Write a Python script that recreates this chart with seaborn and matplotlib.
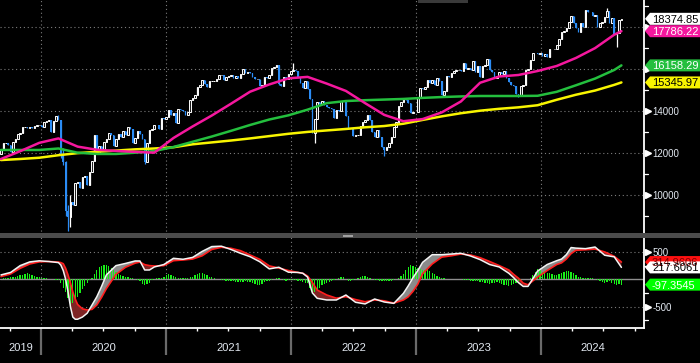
import numpy as np
import pandas as pd
import matplotlib
matplotlib.use("Agg")
import matplotlib.pyplot as plt
import matplotlib.dates as mdates
import matplotlib.transforms as mtransforms
from matplotlib.patches import Polygon, Rectangle
import seaborn as sns

# ---------------- data (weekly DAX candles) ----------------
first_date = "2019-09-06"
first_open = 11939
closes = [
    # 2019
    12191, 12468, 12468, 12380, 12013, 12512, 12634, 12895, 12961, 13229, 13242, 13164, 13236, 13166, 13283, 13319, 13337,
    # 2020
    13219, 13483, 13526, 13577, 12982, 13514, 13745, 13579, 11890, 11542, 9232, 8929, 9633, 9525, 10565, 10626, 10336,
    10861, 10904, 10465, 11074, 11587, 12848, 11949, 12331, 12089, 12528, 12633, 12920, 12838, 12313, 12674, 12901, 12765,
    13033, 12842, 13202, 13116, 12469, 12689, 13051, 12909, 12646, 11556, 12480, 13077, 13137, 13335, 13298, 13114, 13631, 13587,
    # 2021
    13719, 14049, 13788, 13874, 13433, 14057, 14050, 13993, 13786, 13920, 14502, 14621, 14748, 15107, 15234, 15459, 15280,
    15136, 15400, 15416, 15437, 15520, 15693, 15693, 15448, 15607, 15650, 15688, 15540, 15669, 15544, 15761, 15977, 15808,
    15852, 15781, 15609, 15490, 15531, 15156, 15206, 15587, 15543, 15688, 16054, 16094, 16160, 15257, 15169, 15623, 15531,
    15756, 15885,
    # 2022
    15948, 15883, 15603, 15318, 15100, 15425, 15042, 14567, 12919, 13628, 14413, 14306, 14446, 14284, 14163, 14143, 14098,
    13674, 14027, 13982, 14462, 14460, 13762, 13126, 13118, 12813, 12833, 12865, 13254, 13484, 13574, 13795, 13544, 12971,
    12761, 13088, 12741, 12284, 12114, 12273, 12438, 12731, 13243, 13460, 14224, 14431, 14541, 14529, 14370, 13893, 13940, 13924,
    # 2023
    14610, 15086, 15033, 15150, 15476, 15308, 15482, 15210, 15578, 15428, 14768, 14957, 15629, 15598, 15808, 15882, 15922,
    15961, 15914, 16275, 15983, 16051, 15950, 16358, 15830, 16148, 15603, 16106, 16177, 16469, 15952, 15832, 15575, 15632,
    15840, 15741, 15894, 15557, 15387, 15230, 15187, 14798, 14688, 15189, 15234, 15919, 15967, 16397, 16759, 16751, 16706, 16752,
    # 2024
    16594, 16704, 16555, 16961, 16918, 16926, 17117, 17419, 17735, 17815, 17937, 18206, 18492, 18175, 17930, 17737, 18161,
    18001, 18773, 18704, 18693, 18498, 18557, 18002, 18164, 18235, 18475, 18748, 18171, 18418, 17661, 17723, 18322, 18374.85,
]
wick_low = {25: 11724, 26: 11400, 27: 9000, 28: 8255, 29: 8450, 60: 11450, 116: 15200,
            131: 12439, 160: 11862, 216: 14630, 257: 17024}
wick_high = {24: 13795, 26: 12200, 27: 11600, 28: 9500, 29: 10000, 122: 16285, 253: 18892}

ma_weeks = [0, 8, 16, 24, 32, 40, 48, 56, 64, 72, 80, 88, 96, 104, 112, 120, 128,
            136, 144, 152, 160, 168, 176, 184, 192, 200, 208, 216, 224, 232, 240, 248, 256, 259]
ma_pink = [11700, 12070, 12470, 12680, 12290, 12140, 12085, 12040, 12000, 12700, 13250, 13770, 14330, 14905, 15250, 15540, 15610,
           15290, 14940, 14360, 13800, 13500, 13600, 13920, 14440, 15330, 15630, 15700, 15890, 16130, 16510, 16980, 17620, 17786.22]
ma_green = [12130, 12130, 12130, 12200, 12000, 11940, 11940, 12000, 12080, 12270, 12520, 12770, 13040, 13320, 13580, 13780, 14050,
            14360, 14460, 14500, 14530, 14560, 14610, 14650, 14680, 14700, 14700, 14700, 14710, 14900, 15210, 15530, 15940, 16158.29]
ma_yellow = [11650, 11700, 11760, 11880, 11980, 12040, 12100, 12160, 12200, 12260, 12400, 12490, 12580, 12680, 12790, 12900, 12990,
             13060, 13130, 13210, 13270, 13380, 13560, 13730, 13880, 14000, 14090, 14160, 14260, 14520, 14760, 14960, 15230, 15345.97]

macd_weeks = [0, 4, 8, 12, 16, 20, 24, 25, 26, 27, 28, 29, 30, 31, 32, 34, 36, 38, 40, 42, 44, 48, 52, 56, 58, 60, 62, 64,
              68, 72, 76, 80, 84, 88, 92, 96, 100, 104, 108, 112, 116, 120, 124, 126, 128, 130, 132, 136, 140, 144, 148, 152,
              156, 160, 164, 168, 170, 172, 174, 176, 180, 184, 188, 192, 196, 200, 204, 208, 212, 214, 216, 218, 220, 224,
              228, 232, 234, 236, 238, 240, 244, 248, 252, 256, 259]
macd_line = [80, 125, 250, 318, 338, 325, 305, 260, 160, 0, -230, -500, -690, -730, -730, -690, -620, -470, -320, -130, 80,
             250, 290, 335, 335, 170, 170, 225, 270, 384, 366, 400, 510, 598, 605, 545, 475, 413, 322, 190, 220, 130, 125,
             110, 40, -250, -347, -378, -378, -287, -420, -450, -360, -415, -440, -256, -120, 30, 160, 310, 450, 450, 462,
             475, 426, 360, 270, 225, 110, 30, -60, -130, -130, 150, 270, 340, 370, 450, 580, 570, 560, 590, 440, 410, 217.6061]
macd_signal = [50, 97, 200, 280, 318, 325, 315, 305, 285, 200, 80, -70, -230, -360, -460, -540, -560, -550, -470, -330, -170,
               90, 220, 295, 315, 268, 250, 243, 250, 340, 353, 370, 430, 545, 585, 567, 523, 444, 366, 245, 205, 160, 125,
               110, 60, -60, -196, -287, -345, -318, -370, -410, -378, -393, -435, -378, -320, -220, -90, 100, 280, 405, 430,
               462, 444, 395, 325, 250, 170, 90, 20, -70, -100, 40, 160, 270, 300, 370, 470, 530, 540, 552, 500, 420, 314.9606]
macd_hist = [
    5, 15, 25, 30, 35, 40, 50, 60, 70, 85, 100, 110, 95, 80, 60, 45,
    35, 25, 20, 15, 10, 5, 0, -5, -20, -60, -150, -230, -350, -500, -430, -380,
    -320, -250, -180, -120, -60, -20, 30, 100, 170, 220, 250, 260, 255, 240, 210, 170,
    130, 100, 80, 60, 50, 40, 30, 15, 5, -10, -40, -80, -100, -90, -60, -20,
    10, 20, 25, 30, 50, 70, 90, 80, 60, 40, 30, 25, 20, 25, 30, 35,
    50, 70, 100, 120, 110, 90, 70, 50, 35, 20, 10, 0, -10, -20, -25, -30,
    -35, -40, -45, -50, -50, -45, -40, -45, -55, -70, -90, -100, -104, -80, -50, -30,
    -25, -20, 10, 20, 15, 10, -10, -25, -20, -10, -10, -15, -25, -35, -45, -60,
    -60, -150, -256, -230, -196, -150, -100, -80, -70, -50, -30, -10, 10, 25, 40, 48,
    10, -25, -35, -20, 10, 25, 40, 55, 66, 50, 30, 10, -10, -20, -25, -30,
    -35, -40, -40, -30, -10, 10, 30, 60, 100, 170, 230, 261, 250, 220, 200, 180,
    170, 175, 183, 160, 120, 90, 60, 40, 25, 15, 10, 5, 5, 10, 10, 5,
    0, -10, -15, -20, -25, -30, -35, -40, -45, -50, -60, -70, -86, -75, -60, -50,
    -60, -80, -100, -110, -117, -100, -80, -60, -40, -10, 10, 5, 0, 30, 80, 130,
    183, 170, 140, 120, 121, 110, 90, 80, 75, 90, 110, 130, 150, 157, 140, 110,
    80, 50, 35, 25, 20, 20, 25, 20, 10, -10, -30, -50, -60, -50, -40, -60,
    -80, -104, -90, -97.3545,
]

year_labels = [2019, 2020, 2021, 2022, 2023, 2024]
price_grid = [10000, 12000, 14000, 16000, 18000]
price_labeled = [10000, 12000, 14000]
price_minor = [9000, 11000, 13000, 15000, 17000, 19000]
macd_major = [500, -500]
macd_minor = [250, -250, -750]

# ---------------- style ----------------
sns.set_theme(style="dark", rc={"axes.facecolor": "black", "figure.facecolor": "black"})
plt.rcParams["font.family"] = ["Liberation Sans", "DejaVu Sans"]

W, H = 700, 363
fig = plt.figure(figsize=(W / 100, H / 100), dpi=100, facecolor="black")
ax1 = fig.add_axes([0, 1 - 235 / H, 644 / W, 235 / H])
ax2 = fig.add_axes([0, 1 - 328 / H, 644 / W, 91 / H])

C_UP = "#ffffff"
C_DN = "#2b8cf5"
C_PINK = "#f5179e"
C_GREEN = "#24bf3e"
C_YELLOW = "#f8f500"
GRID = "#7c7c7c"
TXT = "#e2e8f0"

origin = pd.Timestamp("2020-01-01")
xmin = mdates.date2num(origin - pd.Timedelta(days=41 * 365.25 / 125))
xmax = mdates.date2num(origin + pd.Timedelta(days=603 * 365.25 / 125))

dates = pd.date_range(first_date, periods=len(closes), freq="7D")
xd = mdates.date2num(dates.to_pydatetime())

for ax in (ax1, ax2):
    ax.set_facecolor("black")
    ax.grid(False)
    for s in ax.spines.values():
        s.set_visible(False)
    ax.spines["right"].set_visible(True)
    ax.spines["right"].set_color("white")
    ax.spines["right"].set_linewidth(1.3)
    ax.set_xlim(xmin, xmax)
    for yr in year_labels[1:]:
        ax.axvline(mdates.date2num(pd.Timestamp(f"{yr}-01-01")), color=GRID, lw=0.8,
                   ls=(0, (1, 2.5)), zorder=0.5)

ax1.set_ylim(8081, 19271)
ax2.set_ylim(-890, 773)

# ---------------- candles ----------------
c = np.array(closes, dtype=float)
o = np.r_[first_open, c[:-1]]
hi = np.maximum(o, c)
lo = np.minimum(o, c)
for i, v in wick_low.items():
    lo[i] = min(lo[i], v)
for i, v in wick_high.items():
    hi[i] = max(hi[i], v)
up = c >= o
ax1.vlines(xd[up], lo[up], hi[up], color=C_UP, lw=0.9, zorder=2)
ax1.vlines(xd[~up], lo[~up], hi[~up], color=C_DN, lw=0.9, zorder=2)
ax1.bar(xd[up], (c - o)[up], bottom=o[up], width=4.6, facecolor="#202020",
        edgecolor=C_UP, linewidth=0.7, zorder=3)
ax1.bar(xd[~up], (o - c)[~up], bottom=c[~up], width=4.6, color=C_DN, linewidth=0, zorder=3)

for v in price_grid:
    ax1.axhline(v, color=GRID, lw=0.8, ls=(0, (1, 2.5)), zorder=0.5)

mx = xd[ma_weeks]
sns.lineplot(x=mx, y=ma_yellow, ax=ax1, color=C_YELLOW, lw=1.8, sort=False, estimator=None, zorder=4)
sns.lineplot(x=mx, y=ma_green, ax=ax1, color=C_GREEN, lw=1.8, sort=False, estimator=None, zorder=4)
sns.lineplot(x=mx, y=ma_pink, ax=ax1, color=C_PINK, lw=1.8, sort=False, estimator=None, zorder=4)

# ---------------- MACD panel ----------------
kx = xd[macd_weeks]
ml = np.array(macd_line, dtype=float)
ms = np.array(macd_signal, dtype=float)
ax2.axhline(0, color="#8e8e8e", lw=1.0, zorder=1)
for v in macd_major:
    ax2.axhline(v, color=GRID, lw=0.8, ls=(0, (1, 2.5)), zorder=0.5)
ax2.fill_between(kx, ml, ms, where=ml >= ms, interpolate=True, color="#8a8a8a", lw=0, zorder=2)
ax2.fill_between(kx, ml, ms, where=ml < ms, interpolate=True, color="#7e2424", lw=0, zorder=2)
ax2.bar(xd, macd_hist, width=3.8, color="#18f018", linewidth=0, zorder=3)
sns.lineplot(x=kx, y=ms, ax=ax2, color="#ff1e1e", lw=1.2, sort=False, estimator=None, zorder=4)
sns.lineplot(x=kx, y=ml, ax=ax2, color="#f4f4f4", lw=1.1, sort=False, estimator=None, zorder=5)

for ax in (ax1, ax2):
    ax.set_xlabel("")
    ax.set_ylabel("")
    ax.set_yticks([])

ax1.set_xticks([])
ax2.spines["bottom"].set_visible(True)
ax2.spines["bottom"].set_color("white")
ax2.spines["bottom"].set_linewidth(1.3)
ax2.set_xticks([mdates.date2num(pd.Timestamp(f"{y}-01-01")) for y in year_labels[1:]])
quarters = [q for q in pd.date_range("2019-10-01", "2024-10-01", freq="QS") if q.month != 1]
ax2.set_xticks(mdates.date2num([q.to_pydatetime() for q in quarters]), minor=True)
ax2.tick_params(axis="x", which="major", bottom=True, length=19.5, width=1.6, color="#6a6a6a",
                direction="out", labelbottom=False)
ax2.tick_params(axis="x", which="minor", bottom=True, length=2.5, width=1.0, color="white",
                direction="out", labelbottom=False)

# year labels centred in visible part of each year
ytr = mtransforms.blended_transform_factory(ax2.transData, ax2.transAxes)
for yr in year_labels:
    a = max(mdates.date2num(pd.Timestamp(f"{yr}-01-01")), xmin)
    b = min(mdates.date2num(pd.Timestamp(f"{yr + 1}-01-01")), xmax)
    ax2.text((a + b) / 2, -0.22, str(yr), transform=ytr, ha="center", va="center",
             fontsize=8, color=TXT)


# ---------------- right-hand axis ticks ----------------
def right_ticks(ax, major, labeled, minor):
    tr = mtransforms.blended_transform_factory(ax.transAxes, ax.transData)
    for v in minor:
        ax.plot([1.0, 1.0 + 4 / 644], [v, v], color="white", lw=0.9, transform=tr, clip_on=False)
    for v in major:
        ax.plot([1.0 + 3.5 / 644], [v], marker=">", ms=4, color="white", mec="white",
                transform=tr, clip_on=False)
    for v in labeled:
        ax.text(1.0 + 8.5 / 644, v, f"{v:d}", transform=tr, ha="left", va="center_baseline",
                fontsize=7, color=TXT)


right_ticks(ax1, price_grid, price_labeled, price_minor)
right_ticks(ax2, macd_major, macd_major, macd_minor)


# ---------------- value boxes ----------------
def value_box(ax, v, text, fc, tc):
    yd = ax.transData.transform((xmin, v))[1]
    pts = np.array([[645, yd], [650, yd + 6], [701, yd + 6], [701, yd - 6], [650, yd - 6]])
    fig.add_artist(Polygon(pts, closed=True, transform=mtransforms.IdentityTransform(),
                           facecolor=fc, edgecolor="none", zorder=5))
    fig.text(652 / W, yd / H, text, color=tc, fontsize=8, ha="left", va="center_baseline", zorder=6)


value_box(ax1, closes[-1], f"{closes[-1]:.2f}", "#ffffff", "#000000")
value_box(ax1, ma_pink[-1], f"{ma_pink[-1]:.2f}", C_PINK, "#ffffff")
value_box(ax1, ma_green[-1], f"{ma_green[-1]:.2f}", C_GREEN, "#ffffff")
value_box(ax1, ma_yellow[-1], f"{ma_yellow[-1]:.2f}", C_YELLOW, "#000000")
value_box(ax2, macd_signal[-1], f"{macd_signal[-1]:.4f}", "#ff1010", "#7a0000")
value_box(ax2, macd_line[-1], f"{macd_line[-1]:.4f}", "#ffffff", "#000000")
value_box(ax2, macd_hist[-1], f"{macd_hist[-1]:.4f}", "#00ff00", "#ffffff")

# separator bar, handles
fig.add_artist(Rectangle((0, 1 - 238 / H), 1, 5 / H, transform=fig.transFigure,
                         facecolor="#4b4b4b", edgecolor="none", zorder=4))
fig.add_artist(Rectangle((343 / W, 1 - 237 / H), 10 / W, 2 / H, transform=fig.transFigure,
                         facecolor="#a0a0a0", edgecolor="none", zorder=4))
fig.add_artist(Rectangle((418 / W, 1 - 2.5 / H), 50 / W, 2.5 / H, transform=fig.transFigure,
                         facecolor="#3a3a3a", edgecolor="none", zorder=4))

fig.savefig("out.png", dpi=100, facecolor="black")
